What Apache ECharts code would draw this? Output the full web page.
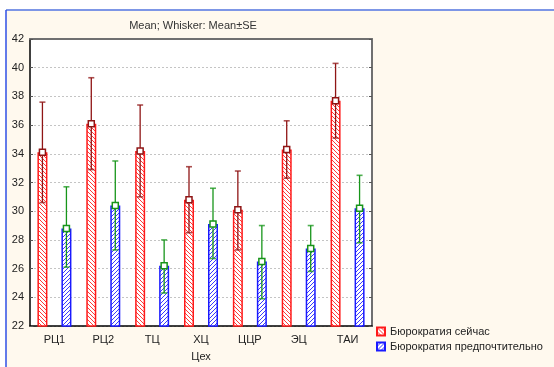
<!DOCTYPE html>
<html>
<head>
<meta charset="utf-8">
<script src="https://cdn.jsdelivr.net/npm/echarts@6/dist/echarts.min.js"></script>
<style>html,body{margin:0;padding:0;background:#fff}#c{width:554px;height:367px}</style>
</head>
<body>
<div id="c"></div>
<script>
// ---- data ----
const categories = ['РЦ1', 'РЦ2', 'ТЦ', 'ХЦ', 'ЦЦР', 'ЭЦ', 'ТАИ'];
const seriesNames = ['Бюрократия сейчас', 'Бюрократия предпочтительно'];
const nowMean = [34.1, 36.1, 34.2, 30.8, 30.1, 34.3, 37.7];
const nowLow  = [30.6, 32.9, 31.0, 28.5, 27.3, 32.3, 35.1];
const nowHigh = [37.6, 39.3, 37.4, 33.1, 32.8, 36.3, 40.3];
const prefMean = [28.8, 30.4, 26.2, 29.1, 26.5, 27.4, 30.2];
const prefLow  = [26.1, 27.3, 24.3, 26.7, 23.9, 25.8, 27.8];
const prefHigh = [31.7, 33.5, 28.0, 31.6, 29.0, 29.0, 32.5];
const yTicks = [22, 24, 26, 28, 30, 32, 34, 36, 38, 40, 42];

// ---- styles ----
const FONT = '"Liberation Sans", Arial, sans-serif';
const BAR_W = 10, BAR_GAP = 1.4;
const OFFSET = BAR_W * (1 + BAR_GAP) / 2;

function hatch(color, dir) {
  const c = document.createElement('canvas');
  c.width = 4; c.height = 4;
  const g = c.getContext('2d');
  g.fillStyle = '#ffffff'; g.fillRect(0, 0, 4, 4);
  g.fillStyle = color;
  for (let i = 0; i < 4; i++) {
    g.fillRect(i, dir > 0 ? i : 3 - i, 1, 1);
  }
  return { image: c, repeat: 'repeat' };
}

const chart = echarts.init(document.getElementById('c'), null, { renderer: 'canvas' });

function errSeries(name, mean, low, high, side, lineColor) {
  return {
    type: 'custom',
    name: name + '_err',
    xAxisIndex: 0, yAxisIndex: 0,
    z: 5,
    silent: true,
    data: mean.map((m, i) => [i, low[i], high[i], m]),
    renderItem: function (params, api) {
      const ptHi = api.coord([api.value(0), api.value(2)]);
      const ptLo = api.coord([api.value(0), api.value(1)]);
      const ptM = api.coord([api.value(0), api.value(3)]);
      const x = ptM[0] + side * OFFSET;
      const cap = 3, ms = 3;
      const ls = { stroke: lineColor, lineWidth: 1.3 };
      return {
        type: 'group',
        children: [
          { type: 'line', shape: { x1: x, y1: ptHi[1], x2: x, y2: ptLo[1] }, style: ls },
          { type: 'line', shape: { x1: x - cap, y1: ptHi[1], x2: x + cap, y2: ptHi[1] }, style: { stroke: lineColor, lineWidth: 1.6, opacity: 0.75 } },
          { type: 'line', shape: { x1: x - cap, y1: ptLo[1], x2: x + cap, y2: ptLo[1] }, style: { stroke: lineColor, lineWidth: 1.6, opacity: 0.75 } },
          { type: 'rect', shape: { x: x - ms, y: ptM[1] - ms, width: ms * 2, height: ms * 2 }, style: { fill: '#ffffff', stroke: lineColor, lineWidth: 1.5 } }
        ]
      };
    }
  };
}

const option = {
  backgroundColor: '#ffffff',
  animation: false,
  textStyle: { fontFamily: FONT },
  graphic: [
    { type: 'rect', z: -10, shape: { x: 6, y: 10, width: 548, height: 357 }, style: { fill: '#fff9ee' } },
    { type: 'line', z: -9, shape: { x1: 6, y1: 10, x2: 554, y2: 10 }, style: { stroke: '#7d96e6', lineWidth: 2 } },
    { type: 'line', z: -9, shape: { x1: 6, y1: 10, x2: 6, y2: 367 }, style: { stroke: '#2f4fe6', lineWidth: 1.5 } },
    { type: 'text', x: 193, y: 26, style: { text: 'Mean; Whisker: Mean±SE', font: '11px ' + FONT, fill: '#333333', textAlign: 'center', textVerticalAlign: 'middle' } }
  ],
  grid: { left: 30, right: 182, top: 39, bottom: 40, show: true, backgroundColor: '#ffffff', borderWidth: 0 },
  legend: {
    orient: 'vertical', left: 376, top: 326, itemGap: 4, padding: 0,
    itemWidth: 8, itemHeight: 8, icon: 'rect',
    textStyle: { fontSize: 11, color: '#222222', fontFamily: FONT },
    data: seriesNames
  },
  xAxis: [
    {
      type: 'category', data: categories, position: 'bottom',
      axisLine: { lineStyle: { color: '#000000', width: 1.5 } },
      axisTick: { alignWithLabel: true, inside: true, length: 3, lineStyle: { color: '#000' } },
      axisLabel: { fontSize: 11, color: '#222222', margin: 8, fontFamily: FONT },
      name: 'Цех', nameLocation: 'middle', nameGap: 25,
      nameTextStyle: { fontSize: 11, color: '#222222', fontFamily: FONT }
    },
    {
      type: 'category', data: categories, position: 'top',
      axisLine: { lineStyle: { color: '#707070', width: 2 } },
      axisTick: { alignWithLabel: true, inside: true, length: 3, lineStyle: { color: '#000' } },
      axisLabel: { show: false }
    }
  ],
  yAxis: [
    {
      type: 'value', min: yTicks[0], max: yTicks[yTicks.length - 1], interval: 2, position: 'left',
      axisLine: { show: true, lineStyle: { color: '#000000', width: 1.5 } },
      axisTick: { show: true, inside: true, length: 3, lineStyle: { color: '#555' } },
      axisLabel: { fontSize: 11, color: '#222222', margin: 6, fontFamily: FONT },
      splitLine: { show: true, lineStyle: { color: '#c4c4c4', type: [2, 2], width: 1 } }
    },
    {
      type: 'value', min: yTicks[0], max: yTicks[yTicks.length - 1], interval: 2, position: 'right',
      axisLine: { show: true, lineStyle: { color: '#707070', width: 2 } },
      axisTick: { show: true, inside: true, length: 3, lineStyle: { color: '#555' } },
      axisLabel: { show: false },
      splitLine: { show: false }
    }
  ],
  series: [
    {
      type: 'bar', name: seriesNames[0], data: nowMean, barWidth: BAR_W, barGap: (BAR_GAP * 100) + '%',
      xAxisIndex: 0, yAxisIndex: 0,
      itemStyle: { color: hatch('#ff3a3a', 1), borderColor: '#ff1a1a', borderWidth: 1.5 }
    },
    {
      type: 'bar', name: seriesNames[1], data: prefMean, barWidth: BAR_W,
      xAxisIndex: 0, yAxisIndex: 0,
      itemStyle: { color: hatch('#3a3aff', -1), borderColor: '#1a1aff', borderWidth: 1.5 }
    },
    errSeries(seriesNames[0], nowMean, nowLow, nowHigh, -1, '#8f1515'),
    errSeries(seriesNames[1], prefMean, prefLow, prefHigh, 1, '#17951a')
  ]
};
chart.setOption(option);
</script>
</body>
</html>
